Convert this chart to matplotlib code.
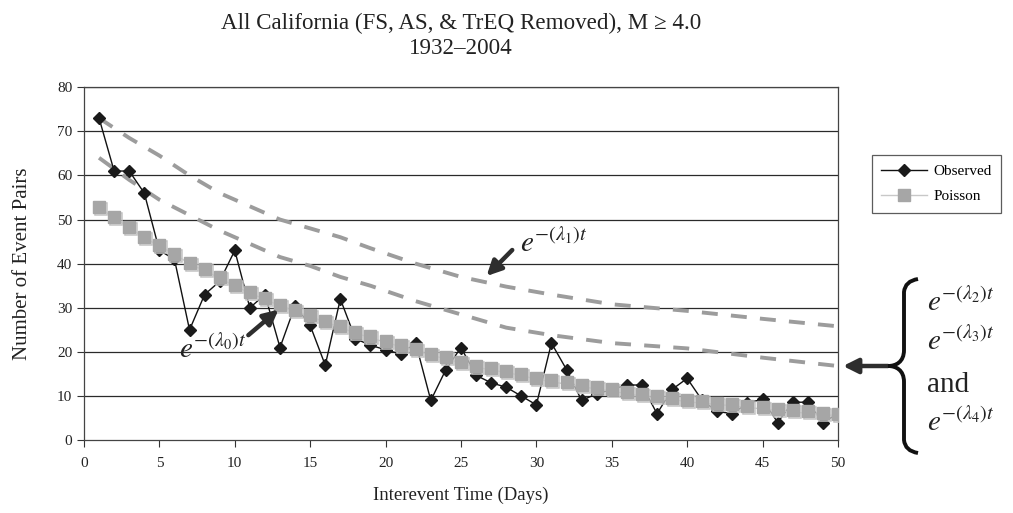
import matplotlib
matplotlib.use('Agg')
import matplotlib.pyplot as plt
from matplotlib.path import Path
from matplotlib.patches import PathPatch, FancyArrowPatch
from matplotlib.lines import Line2D
import matplotlib.transforms as mtransforms

# --- data ---
days = list(range(1, 51))
observed = [73, 61, 61, 56, 43, 41, 25, 33, 36, 43,
            30, 33, 21, 30.5, 26, 17, 32, 23, 21.5, 20.5,
            19.5, 22, 9, 16, 21, 14.7, 13, 12, 10, 8,
            22, 16, 9, 10.5, 11.5, 12.5, 12.5, 6, 11.5, 14,
            9, 6.5, 6, 8.4, 9.3, 4, 8.6, 8.6, 4, 6]
poisson = [52.8, 50.6, 48.3, 46.1, 44.2, 42.3, 40.2, 38.7, 36.9, 35.2,
           33.6, 32.2, 30.7, 29.5, 28.3, 27.1, 25.8, 24.6, 23.5, 22.5,
           21.5, 20.6, 19.6, 18.8, 17.8, 16.9, 16.3, 15.7, 15.0, 14.2,
           13.6, 13.1, 12.5, 12.0, 11.5, 10.9, 10.4, 9.9, 9.6, 9.1,
           8.8, 8.5, 8.2, 7.8, 7.5, 7.1, 6.8, 6.5, 6.2, 6.0]

fit_t = [1, 3, 5, 7, 9, 11, 13, 15, 17, 19, 22, 25, 28, 31, 35, 40, 45, 50]
fit_upper = [73, 68.5, 64.5, 60, 56, 53, 50, 48, 46, 43.5, 40, 37, 34.8, 33, 30.8, 29.3, 27.5, 25.8]
fit_lower = [64, 59, 54.5, 51, 47.5, 44.5, 41.5, 39.5, 37, 35, 31.5, 28.5, 25.5, 23.8, 22, 20.8, 18.7, 16.8]

y_ticks = list(range(0, 81, 10))
x_ticks = list(range(0, 51, 5))

plt.rcParams['font.family'] = ['Liberation Serif', 'DejaVu Serif']
plt.rcParams['mathtext.fontset'] = 'stix'

fig = plt.figure(figsize=(10.13, 5.13), dpi=100)
ax = fig.add_axes([0.0829, 0.142, 0.7443, 0.688])

# horizontal grid
for yv in y_ticks[1:]:
    ax.axhline(yv, color='#2a2a2a', lw=0.9, zorder=1)

# fitted exponential curves (dashed)
dash_kw = dict(color='#9c9c9c', lw=2.8, dashes=(4.1, 3.4), zorder=2)
ax.plot(fit_t, fit_upper, **dash_kw)
ax.plot(fit_t, fit_lower, **dash_kw)

# observed
ax.plot(days, observed, color='#111111', lw=1.0, marker='D', markersize=6.5,
        markerfacecolor='#1a1a1a', markeredgecolor='#1a1a1a', zorder=3)

# poisson: light outline square slightly offset, then filled square
offset = mtransforms.ScaledTranslation(2 / 100, -2 / 100, fig.dpi_scale_trans)
ax.plot(days, poisson, color='#cccccc', lw=1.0, marker='s', markersize=8.8,
        markerfacecolor='none', markeredgecolor='#c4c4c4', markeredgewidth=1.1,
        transform=ax.transData + offset, zorder=4)
ax.plot(days, poisson, color='#cccccc', lw=0, marker='s', markersize=8.8,
        markerfacecolor='#a6a6a6', markeredgecolor='#a6a6a6', zorder=5)

ax.set_xlim(0, 50)
ax.set_ylim(0, 80)
ax.set_xticks(x_ticks)
ax.set_yticks(y_ticks)
ax.tick_params(axis='both', direction='out', length=5, width=0.8,
               colors='#333333', labelsize=11, labelcolor='#222222')
ax.tick_params(axis='x', pad=7)
for side in ['left', 'bottom', 'right', 'top']:
    ax.spines[side].set_color('#444444')
    ax.spines[side].set_linewidth(0.9)

ax.set_xlabel('Interevent Time (Days)', fontsize=13.5, labelpad=12, color='#222222')
ax.set_ylabel('Number of Event Pairs', fontsize=15, labelpad=18, color='#222222')

fig.text(0.455, 0.955, 'All California (FS, AS, & TrEQ Removed), M \u2265 4.0',
         ha='center', va='center', fontsize=16.6, color='#222222')
fig.text(0.455, 0.905, '1932\u20132004', ha='center', va='center',
         fontsize=16.6, color='#222222')

# legend
handles = [Line2D([], [], color='#111111', lw=1.0, marker='D', markersize=6.5,
                  markerfacecolor='#1a1a1a', markeredgecolor='#1a1a1a'),
           Line2D([], [], color='#c8c8c8', lw=1.0, marker='s', markersize=8.5,
                  markerfacecolor='#a6a6a6', markeredgecolor='#a6a6a6')]
leg = fig.legend(handles, ['Observed', 'Poisson'], loc='upper left',
                 bbox_to_anchor=(0.861, 0.697), fontsize=11, frameon=True,
                 fancybox=False, handlelength=3.0, borderpad=0.6,
                 labelspacing=0.75, borderaxespad=0, handletextpad=0.4)
leg.get_frame().set_edgecolor('#333333')
leg.get_frame().set_linewidth(0.9)

# annotations
arrow_kw = dict(arrowstyle='-|>', lw=3.2, color='#2e2e2e', mutation_scale=22,
                shrinkA=0, shrinkB=0)
ax.annotate('', xy=(26.7, 37.2), xytext=(28.4, 43.1), arrowprops=arrow_kw, zorder=6)
ax.text(28.9, 41.3, r'$e^{-(\lambda_1)t}$', fontsize=21, color='#222222',
        ha='left', va='bottom', zorder=6)
ax.annotate('', xy=(12.9, 29.6), xytext=(10.9, 23.8), arrowprops=arrow_kw, zorder=6)
ax.text(6.3, 17.3, r'$e^{-(\lambda_0)t}$', fontsize=21, color='#222222',
        ha='left', va='bottom', zorder=6)


def px(x, y):
    return (x / 1013, (513 - y) / 513)


fig.patches.append(FancyArrowPatch(px(888, 366), px(843, 366),
                                   transform=fig.transFigure, **arrow_kw))

verts = [px(918, 279), px(905, 281), px(904, 292),
         px(904, 350),
         px(904, 362), px(896, 366), px(888, 366),
         px(896, 366), px(904, 370), px(904, 382),
         px(904, 440),
         px(905, 451), px(918, 453)]
codes = [Path.MOVETO, Path.CURVE3, Path.CURVE3,
         Path.LINETO,
         Path.CURVE4, Path.CURVE4, Path.CURVE4,
         Path.CURVE4, Path.CURVE4, Path.CURVE4,
         Path.LINETO,
         Path.CURVE3, Path.CURVE3]
brace = PathPatch(Path(verts, codes), transform=fig.transFigure,
                  facecolor='none', edgecolor='#111111', lw=2.8)
fig.patches.append(brace)

right_labels = [r'$e^{-(\lambda_2)t}$', r'$e^{-(\lambda_3)t}$', 'and', r'$e^{-(\lambda_4)t}$']
right_y = [303, 342, 385, 423]
for lab, yy in zip(right_labels, right_y):
    fig.text(927 / 1013, (513 - yy) / 513, lab, fontsize=21, color='#222222',
             ha='left', va='center')

plt.savefig('out.png', dpi=100)
